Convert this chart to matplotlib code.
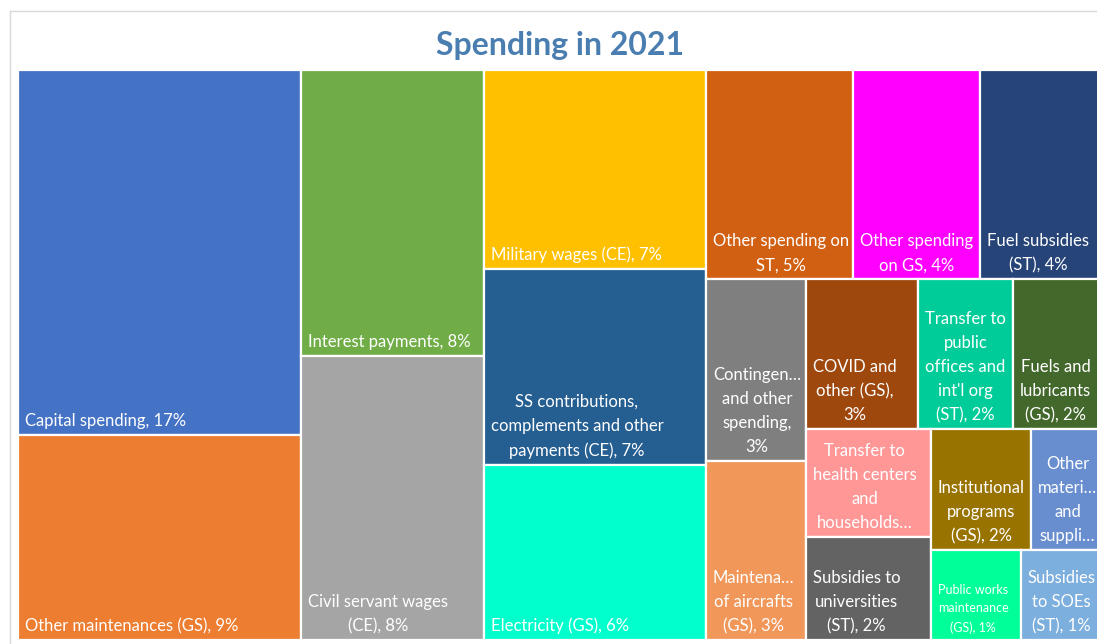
import matplotlib
matplotlib.use("Agg")
import matplotlib.pyplot as plt
from matplotlib.patches import Rectangle
from matplotlib.lines import Line2D

# Share of total 2021 spending (%), largest first
shares = [16.62, 9.37, 8.41, 8.35, 7.13, 7.01, 6.28, 4.95, 4.28, 4.28,
          2.93, 2.88, 2.71, 2.30, 2.27, 2.17, 2.07, 1.95, 1.48, 1.30, 1.25]

# Cell captions as displayed ({p} is filled with the rounded share)
labels = [
    "Capital spending, {p}%",
    "Other maintenances (GS), {p}%",
    "Interest payments, {p}%",
    "Civil servant wages\n(CE), {p}%",
    "Military wages (CE), {p}%",
    "SS contributions,\ncomplements and other\npayments (CE), {p}%",
    "Electricity (GS), {p}%",
    "Other spending on\nST, {p}%",
    "Other spending\non GS, {p}%",
    "Fuel subsidies\n(ST), {p}%",
    "Contingen\u2026\nand other\nspending,\n{p}%",
    "Maintena\u2026\nof aircrafts\n(GS), {p}%",
    "COVID and\nother (GS),\n{p}%",
    "Transfer to\npublic\noffices and\nint'l org\n(ST), {p}%",
    "Fuels and\nlubricants\n(GS), {p}%",
    "Transfer to\nhealth centers\nand\nhouseholds\u2026",
    "Subsidies to\nuniversities\n(ST), {p}%",
    "Institutional\nprograms\n(GS), {p}%",
    "Other\nmateri\u2026\nand\nsuppli\u2026",
    "Public works\nmaintenance\n(GS), {p}%",
    "Subsidies\nto SOEs\n(ST), {p}%",
]

colors = ["#4472C4", "#ED7D31", "#70AD47", "#A5A5A5", "#FFC000", "#255E91",
          "#00FFCC", "#D26012", "#FF00FF", "#264478", "#7F7F7F", "#F1975A",
          "#9E480E", "#00CC99", "#43682B", "#FF9797", "#636363", "#997300",
          "#698ED0", "#00FF99", "#7CAFDD"]

# Number of consecutive items placed in each strip of the treemap
strip_sizes = [2, 2, 3, 3, 2, 3, 2, 2, 1, 1]

TM_W, TM_H = 1089.0, 570.0   # treemap box size (pixels)


def strip_layout(values, sizes, x, y, w, h):
    """Slice the box into strips along its shorter side (y grows downward)."""
    scale = w * h / sum(values)
    rects, i = [], 0
    for n in sizes:
        group = values[i:i + n]
        area = sum(group) * scale
        if h <= w:          # column on the left, items stacked downward
            cw = area / h
            yy = y
            for v in group:
                ch = v * scale / cw
                rects.append((x, yy, cw, ch))
                yy += ch
            x += cw
            w -= cw
        else:               # row across the top, items left to right
            rh = area / w
            xx = x
            for v in group:
                cw = v * scale / rh
                rects.append((xx, y, cw, rh))
                xx += cw
            y += rh
            h -= rh
        i += n
    return rects


FIG_W, FIG_H = 1097, 644
fig = plt.figure(figsize=(FIG_W / 100, FIG_H / 100), dpi=100)
fig.patch.set_facecolor("white")

# light chart-area border (top and left)
fx, fy = 9.5 / FIG_W, 1 - 11 / FIG_H
fig.add_artist(Line2D([fx, 1.0], [fy, fy], transform=fig.transFigure,
                      color="#D9D9D9", lw=1.0))
fig.add_artist(Line2D([fx, fx], [0.0, fy], transform=fig.transFigure,
                      color="#D9D9D9", lw=1.0))

ax = fig.add_axes([18 / FIG_W, 4 / FIG_H, TM_W / FIG_W, TM_H / FIG_H])
ax.set_xlim(0, TM_W)
ax.set_ylim(TM_H, 0)
ax.axis("off")

rects = strip_layout(shares, strip_sizes, 0, 0, TM_W, TM_H)

for (x, y, w, h), val, lab, col in zip(rects, shares, labels, colors):
    ax.add_patch(Rectangle((x, y), w, h, facecolor=col, edgecolor="white",
                           linewidth=1.6))
    text = lab.format(p=f"{val:.0f}")
    small = lab.startswith("Public works")
    ax.text(x + 7, y + h - 6, text, ha="left", va="bottom",
            multialignment="center", color="white",
            fontfamily="Lato", fontsize=9 if small else 12.0,
            linespacing=1.66 if small else 1.62, clip_on=True)

fig.text(560 / FIG_W, 1 - 55 / FIG_H, "Spending in 2021", ha="center",
         va="baseline", fontfamily="Lato", fontweight="bold", fontsize=23,
         color="#4A7EB0")

fig.savefig("out.png", dpi=100, facecolor="white")
